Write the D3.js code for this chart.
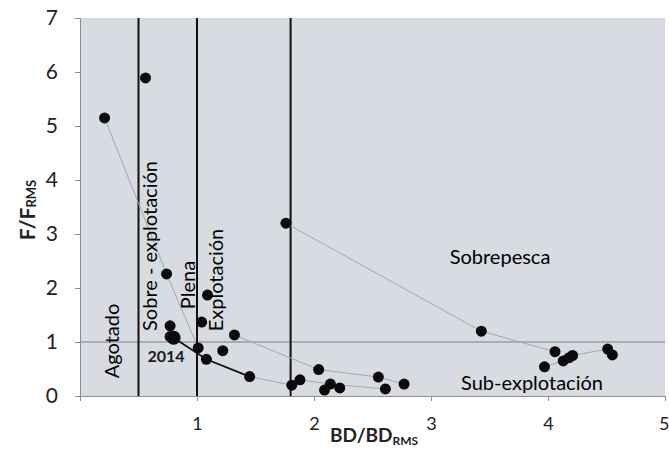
<!DOCTYPE html>
<html>
<head>
<meta charset="utf-8">
<script src="https://cdn.jsdelivr.net/npm/d3@7"></script>
<style>
  body { margin: 0; background: #fff; }
  svg { font-family: Lato, "Open Sans", sans-serif; }
</style>
</head>
<body>
<svg id="grafico" width="669" height="451"></svg>
<script>
// valores
const xTicks = [1, 2, 3, 4, 5];
const yTicks = [0, 1, 2, 3, 4, 5, 6, 7];
const limites = [0.5, 1, 1.8];
const lineaF = 1;

const puntos = [
  [0.21, 5.15], [0.56, 5.89], [0.74, 2.26], [0.77, 1.30], [0.77, 1.10],
  [1.09, 1.87], [1.04, 1.37], [1.32, 1.13], [1.01, 0.89], [1.22, 0.84],
  [1.08, 0.68], [1.45, 0.36], [1.76, 3.20], [1.81, 0.20], [1.88, 0.30],
  [2.04, 0.49], [2.09, 0.11], [2.14, 0.22], [2.22, 0.15], [2.55, 0.35],
  [2.61, 0.13], [2.77, 0.22], [3.43, 1.20], [4.06, 0.82], [3.97, 0.54],
  [4.13, 0.65], [4.18, 0.71], [4.21, 0.75], [4.51, 0.87], [4.55, 0.76]
];
const punto2014 = [0.80, 1.08];

// trayectorias grises
const trayectorias = [
  [[0.21, 5.15], [0.74, 2.26], [1.01, 0.89]],
  [[1.76, 3.20], [3.43, 1.20], [4.06, 0.82]],
  [[1.32, 1.13], [2.04, 0.49], [2.55, 0.35], [2.77, 0.22]],
  [[1.45, 0.36], [1.81, 0.20]],
  [[1.88, 0.30], [2.14, 0.22], [2.61, 0.13]],
  [[3.97, 0.54], [4.13, 0.65], [4.18, 0.71], [4.21, 0.75], [4.51, 0.87], [4.55, 0.76]]
];
// trayectoria reciente (negra)
const reciente = [[0.80, 1.08], [1.08, 0.68], [1.45, 0.36]];

const zonas = [
  { texto: "Agotado", x: 111, y: 341, rot: true },
  { texto: "Sobre - explotación", x: 149, y: 246, rot: true },
  { texto: "Plena", x: 187, y: 285, rot: true },
  { texto: "Explotación", x: 215, y: 280, rot: true },
  { texto: "Sobrepesca", x: 500, y: 256, rot: false },
  { texto: "Sub-explotación", x: 532, y: 382, rot: false }
];

var svg = d3.select("#grafico"),
    margin = { left: 80, right: 4, top: 18, bottom: 55 };

var x = d3.scaleLinear().domain([0, 5]).range([margin.left, margin.left + 585]);
var y = d3.scaleLinear().domain([0, 7]).range([margin.top + 378, margin.top]);

// fondo
svg.append("rect")
    .attr("x", x(0)).attr("y", y(7))
    .attr("width", x(5) - x(0)).attr("height", y(0) - y(7))
    .attr("fill", "#d8dbe2");

// linea F = 1
svg.append("line")
    .attr("x1", x(0)).attr("x2", x(5))
    .attr("y1", y(lineaF)).attr("y2", y(lineaF))
    .attr("stroke", "#7d8088").attr("stroke-width", 1.2);

// limites verticales
svg.selectAll(".limite").data(limites).enter().append("line")
    .attr("x1", d => x(d)).attr("x2", d => x(d))
    .attr("y1", y(7)).attr("y2", y(0))
    .attr("stroke", "#111").attr("stroke-width", 2);

// ejes
var ejeX = svg.append("g").attr("transform", "translate(0," + y(0) + ")");
ejeX.call(d3.axisBottom(x).tickValues(d3.range(0, 51).map(d => d / 10)).tickSize(4).tickFormat(""));
ejeX.call(d3.axisBottom(x).tickValues(xTicks).tickSize(5).tickPadding(16).tickFormat(d3.format("d")));
ejeX.selectAll(".domain").attr("stroke", "#8a8d93");
ejeX.selectAll("line").attr("stroke", "#8a8d93");
ejeX.selectAll("text").attr("font-size", 18).attr("fill", "#222")
    .attr("font-family", "Lato, sans-serif");
// el 5 queda pegado al borde derecho
ejeX.selectAll(".tick").filter(d => d === 5).select("text")
    .attr("text-anchor", "end").attr("dx", 4);

var ejeY = svg.append("g").attr("transform", "translate(" + x(0) + ",0)");
ejeY.call(d3.axisLeft(y).tickValues(d3.range(0, 15).map(d => d / 2)).tickSize(4).tickFormat(""));
ejeY.call(d3.axisLeft(y).tickValues(yTicks).tickSize(5).tickPadding(17).tickFormat(d3.format("d")));
ejeY.selectAll(".domain").attr("stroke", "#8a8d93");
ejeY.selectAll("line").attr("stroke", "#8a8d93");
ejeY.selectAll("text").attr("font-size", 21).attr("fill", "#222")
    .attr("font-family", "Lato, sans-serif");

// trayectorias
var linea = d3.line().x(d => x(d[0])).y(d => y(d[1]));
svg.selectAll(".tray").data(trayectorias).enter().append("path")
    .attr("d", linea)
    .attr("fill", "none").attr("stroke", "#a3a7ae").attr("stroke-width", 1);

svg.append("path").datum(reciente)
    .attr("d", linea)
    .attr("fill", "none").attr("stroke", "#111").attr("stroke-width", 1.8);

// puntos
svg.selectAll(".punto").data(puntos).enter().append("circle")
    .attr("cx", d => x(d[0])).attr("cy", d => y(d[1]))
    .attr("r", 5.5).attr("fill", "#0a0a0a");

svg.append("circle")
    .attr("cx", x(punto2014[0])).attr("cy", y(punto2014[1]))
    .attr("r", 7).attr("fill", "#0a0a0a");

svg.append("text")
    .attr("x", 166).attr("y", 355)
    .attr("text-anchor", "middle").attr("dominant-baseline", "central")
    .attr("font-size", 16).attr("font-weight", "bold").attr("fill", "#1a1a1a")
    .text("2014");

// textos de zonas
svg.selectAll(".zona").data(zonas).enter().append("text")
    .attr("transform", d => "translate(" + d.x + "," + d.y + ")" + (d.rot ? " rotate(-90)" : ""))
    .attr("text-anchor", "middle").attr("dominant-baseline", "central")
    .attr("font-size", 20).attr("fill", "#000")
    .text(d => d.texto);

// titulos de ejes
var tituloY = svg.append("text")
    .attr("transform", "translate(26,210) rotate(-90)")
    .attr("text-anchor", "middle").attr("dominant-baseline", "central")
    .attr("font-size", 21).attr("font-weight", "bold").attr("fill", "#222");
tituloY.append("tspan").text("F/F");
tituloY.append("tspan").attr("font-size", 13).attr("dy", 5).text("RMS");

var tituloX = svg.append("text")
    .attr("x", 330).attr("y", 442)
    .attr("font-size", 19).attr("font-weight", "bold").attr("fill", "#222");
tituloX.append("tspan").text("BD/BD");
tituloX.append("tspan").attr("font-size", 12).attr("dy", 3).text("RMS");
</script>
</body>
</html>
